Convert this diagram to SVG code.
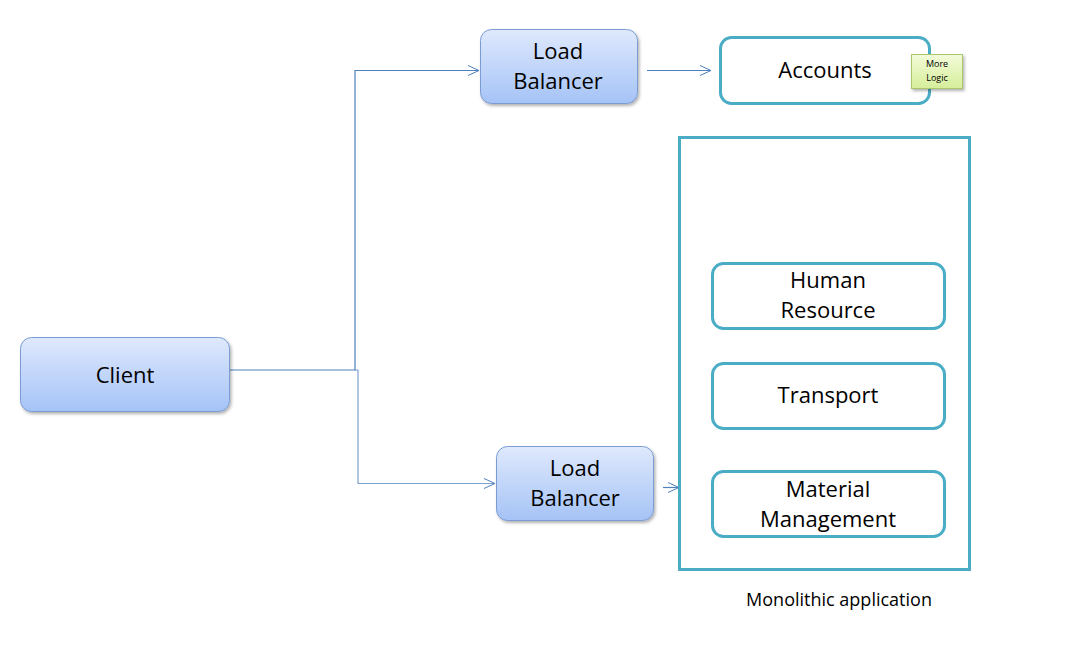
<svg xmlns="http://www.w3.org/2000/svg" width="1068" height="663" viewBox="0 0 1068 663">
<defs>
<linearGradient id="blue" x1="0" y1="0" x2="0" y2="1">
<stop offset="0" stop-color="#dfe9fd"/>
<stop offset="1" stop-color="#a5c3f6"/>
</linearGradient>
<linearGradient id="green" x1="0" y1="0" x2="0" y2="1">
<stop offset="0" stop-color="#f3fbd9"/>
<stop offset="1" stop-color="#d6ee9a"/>
</linearGradient>
<filter id="sh" x="-10%" y="-10%" width="130%" height="140%">
<feDropShadow dx="1.5" dy="2" stdDeviation="1.5" flood-color="#000" flood-opacity="0.3"/>
</filter>
<marker id="arr" markerWidth="14" markerHeight="12" refX="12" refY="6" orient="auto" markerUnits="userSpaceOnUse">
<path d="M1,1 L12,6 L1,11" fill="none" stroke="#4f81bd" stroke-width="1"/>
</marker>
</defs>
<style>
.lb{fill:url(#blue);stroke:#7a9cd3;stroke-width:1;filter:url(#sh)}
.mod{fill:#fff;stroke:#4bacc6;stroke-width:3}
.t{font-family:"Open Sans","Liberation Sans",sans-serif;font-size:22px;fill:#000;text-anchor:middle}
.s{font-family:"Open Sans","Liberation Sans",sans-serif;font-size:18px;fill:#000;text-anchor:middle}
.c{fill:none;stroke:#4f81bd;stroke-width:1.2}
</style>
<rect width="1068" height="663" fill="#fff"/>
<g id="connectors">
<path class="c" d="M220,370 H355 V70.5 H479" marker-end="url(#arr)"/>
<path class="c" d="M355,370 H358 V483.5 H495" stroke-opacity="0.75" marker-end="url(#arr)"/>
<path class="c" d="M647,70.5 H711" marker-end="url(#arr)"/>
<path class="c" d="M663,487.5 H679" marker-end="url(#arr)"/>
</g>
<g id="client">
<rect class="lb" x="20.5" y="337.5" width="209" height="74" rx="11"/>
<text class="t" x="125" y="383">Client</text>
</g>
<g id="lb1">
<rect class="lb" x="480.5" y="29.5" width="157" height="74" rx="11"/>
<text class="t" x="558" y="59">Load</text>
<text class="t" x="558" y="89">Balancer</text>
</g>
<g id="lb2">
<rect class="lb" x="496.5" y="446.5" width="157" height="74" rx="11"/>
<text class="t" x="575" y="476">Load</text>
<text class="t" x="575" y="506">Balancer</text>
</g>
<g id="accounts">
<rect class="mod" x="720.5" y="37.5" width="209" height="66" rx="11"/>
<text class="t" x="825" y="78">Accounts</text>
</g>
<g id="more-logic">
<rect x="911.5" y="54.5" width="51" height="34" fill="url(#green)" stroke="#a9c86a" stroke-width="1" filter="url(#sh)"/>
<text font-family="'Open Sans','Liberation Sans',sans-serif" font-size="9" text-anchor="middle" x="937" y="67">More</text>
<text font-family="'Open Sans','Liberation Sans',sans-serif" font-size="9" text-anchor="middle" x="937" y="81">Logic</text>
</g>
<g id="monolith">
<rect x="679.5" y="137.5" width="290" height="432" fill="none" stroke="#4bacc6" stroke-width="3"/>
<text class="s" x="839" y="606">Monolithic application</text>
</g>
<g id="human-resource">
<rect class="mod" x="712.5" y="263.5" width="232" height="65" rx="11"/>
<text class="t" x="828" y="288">Human</text>
<text class="t" x="828" y="318">Resource</text>
</g>
<g id="transport">
<rect class="mod" x="712.5" y="363.5" width="232" height="65" rx="11"/>
<text class="t" x="828" y="403">Transport</text>
</g>
<g id="material-management">
<rect class="mod" x="712.5" y="471.5" width="232" height="65" rx="11"/>
<text class="t" x="828" y="497">Material</text>
<text class="t" x="828" y="527">Management</text>
</g>
</svg>
